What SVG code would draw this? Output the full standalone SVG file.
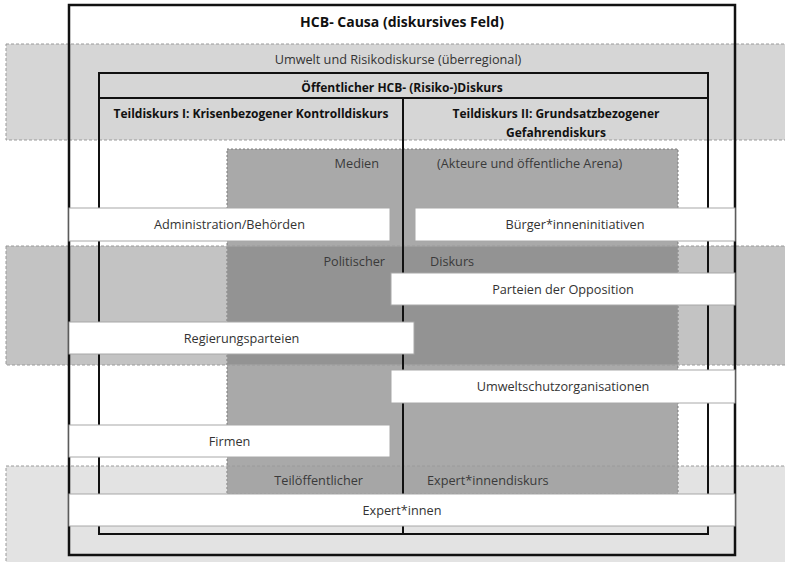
<svg xmlns="http://www.w3.org/2000/svg" width="785" height="562" viewBox="0 0 785 562">
<style>
  text { font-family: "Open Sans", "Noto Sans", "Liberation Sans", sans-serif; }
  .band { stroke: #9a9a9a; stroke-width: 1; stroke-dasharray: 3 2; }
  .medien { stroke: #7a7a7a; stroke-width: 1; stroke-dasharray: 2 2; }
  .frame { fill: none; stroke: #111; }
  .box { fill: #ffffff; stroke: #a8a8a8; stroke-width: 1; }
  .lbl { font-size: 12.7px; fill: #333; text-anchor: middle; }
  .area { font-size: 12.7px; fill: #3a3a3a; }
  .hdr { font-size: 12px; font-weight: bold; fill: #111; text-anchor: middle; }
</style>
<rect width="785" height="562" fill="#ffffff"/>

<g id="bands">
  <rect class="band" x="6" y="44" width="785" height="96" fill="#d6d6d6"/>
  <rect class="band" x="6" y="246" width="785" height="119" fill="#c3c3c3"/>
  <rect class="band" x="6" y="466" width="785" height="100" fill="#e3e3e3"/>
</g>

<g id="medien">
  <rect class="medien" x="227" y="149" width="451" height="345" fill="#a9a9a9"/>
  <rect x="227.5" y="246.5" width="450" height="118" fill="#939393"/>
  <rect x="227.5" y="466.5" width="450" height="27" fill="#a6a6a6"/>
  <line x1="227" y1="246" x2="678" y2="246" class="band"/>
  <line x1="227" y1="365" x2="678" y2="365" class="band"/>
  <line x1="227" y1="466" x2="678" y2="466" class="band"/>
</g>

<g id="frames">
  <rect class="frame" x="69" y="5" width="666" height="550" stroke-width="2.5"/>
  <rect class="frame" x="99" y="73" width="609" height="461" stroke-width="2"/>
  <line x1="99" y1="98" x2="708" y2="98" stroke="#111" stroke-width="2"/>
  <line x1="403" y1="98" x2="403" y2="534" stroke="#111" stroke-width="2"/>
</g>

<g id="labels">
  <text class="hdr" x="402" y="27" style="font-size:14px">HCB- Causa (diskursives Feld)</text>
  <text class="lbl" x="398" y="64" fill="#555">Umwelt und Risikodiskurse (überregional)</text>
  <text class="hdr" x="402" y="92">Öffentlicher HCB- (Risiko-)Diskurs</text>
  <text class="hdr" x="251" y="118">Teildiskurs I: Krisenbezogener Kontrolldiskurs</text>
  <text class="hdr" x="556" y="118">Teildiskurs II: Grundsatzbezogener</text>
  <text class="hdr" x="556" y="137">Gefahrendiskurs</text>
  <text class="area" x="379" y="168" text-anchor="end">Medien</text>
  <text class="area" x="437" y="168">(Akteure und öffentliche Arena)</text>
  <text class="area" x="385" y="266" text-anchor="end">Politischer</text>
  <text class="area" x="430" y="266">Diskurs</text>
  <text class="area" x="363" y="485" text-anchor="end">Teilöffentlicher</text>
  <text class="area" x="427" y="485">Expert*innendiskurs</text>
</g>

<g id="node-administration">
  <rect class="box" x="69" y="208" width="321" height="33"/>
  <text class="lbl" x="229.5" y="229">Administration/Behörden</text>
</g>
<g id="node-buergerinitiativen">
  <rect class="box" x="415" y="208" width="320" height="33"/>
  <text class="lbl" x="575" y="229">Bürger*inneninitiativen</text>
</g>
<g id="node-opposition">
  <rect class="box" x="391" y="273" width="344" height="32"/>
  <text class="lbl" x="563" y="294">Parteien der Opposition</text>
</g>
<g id="node-regierungsparteien">
  <rect class="box" x="69" y="322" width="345" height="32"/>
  <text class="lbl" x="241.5" y="343">Regierungsparteien</text>
</g>
<g id="node-umweltschutz">
  <rect class="box" x="391" y="370" width="344" height="33"/>
  <text class="lbl" x="563" y="391">Umweltschutzorganisationen</text>
</g>
<g id="node-firmen">
  <rect class="box" x="69" y="425" width="321" height="32"/>
  <text class="lbl" x="229.5" y="446">Firmen</text>
</g>
<g id="node-expertinnen">
  <rect class="box" x="69" y="494" width="666" height="32"/>
  <text class="lbl" x="402" y="515">Expert*innen</text>
</g>
</svg>
